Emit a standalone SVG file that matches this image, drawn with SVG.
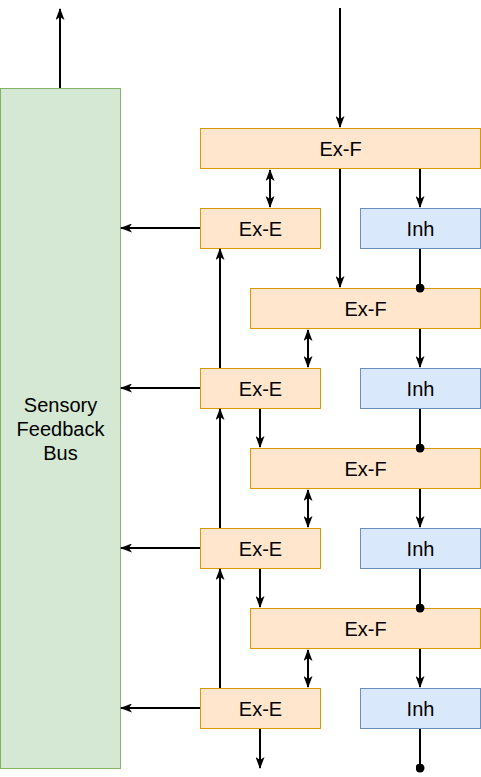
<svg xmlns="http://www.w3.org/2000/svg" width="481" height="777" viewBox="0 0 481 777">
<style>
.ex{fill:#ffe6cc;stroke:#d79b00;stroke-width:1}
.inh{fill:#dae8fc;stroke:#6c8ebf;stroke-width:1}
.bus{fill:#d5e8d4;stroke:#82b366;stroke-width:1}
.t{font-family:"Liberation Sans",Arial,sans-serif;font-size:20px;fill:#000;text-anchor:middle;dominant-baseline:central}
.c{stroke:#000;stroke-width:2;fill:none}
.a{marker-end:url(#arr)}
.b{marker-start:url(#arrs);marker-end:url(#arr)}
.d{marker-end:url(#dot)}
</style>
<defs>
<marker id="arr" viewBox="0 0 12 9" refX="11" refY="4.5" markerWidth="6" markerHeight="4.5" orient="auto" markerUnits="strokeWidth">
<path d="M0,0 L12,4.5 L0,9 L3,4.5 Z" fill="#000"/>
</marker>
<marker id="arrs" viewBox="0 0 12 9" refX="1" refY="4.5" markerWidth="6" markerHeight="4.5" orient="auto" markerUnits="strokeWidth">
<path d="M12,0 L0,4.5 L12,9 L9,4.5 Z" fill="#000"/>
</marker>
<marker id="dot" viewBox="0 0 9 9" refX="4.5" refY="4.5" markerWidth="4.5" markerHeight="4.5" orient="auto" markerUnits="strokeWidth">
<circle cx="4.5" cy="4.5" r="4.5" fill="#000"/>
</marker>
</defs>
<g id="bus"><rect class="bus" x="0.5" y="88.5" width="120" height="680"/>
<text class="t" x="60.5" y="405">Sensory</text><text class="t" x="60.5" y="429">Feedback</text><text class="t" x="60.5" y="453">Bus</text></g>
<g id="exf1"><rect class="ex" x="200.5" y="128.5" width="280" height="40"/><text class="t" x="340.5" y="148.5">Ex-F</text></g>
<g id="exe1"><rect class="ex" x="200.5" y="208.5" width="120" height="40"/><text class="t" x="260.5" y="228.5">Ex-E</text></g>
<g id="inh1"><rect class="inh" x="360.5" y="208.5" width="120" height="40"/><text class="t" x="420.5" y="228.5">Inh</text></g>
<g id="exf2"><rect class="ex" x="250.5" y="288.5" width="230" height="40"/><text class="t" x="365.5" y="308.5">Ex-F</text></g>
<g id="exe2"><rect class="ex" x="200.5" y="368.5" width="120" height="40"/><text class="t" x="260.5" y="388.5">Ex-E</text></g>
<g id="inh2"><rect class="inh" x="360.5" y="368.5" width="120" height="40"/><text class="t" x="420.5" y="388.5">Inh</text></g>
<g id="exf3"><rect class="ex" x="250.5" y="448.5" width="230" height="40"/><text class="t" x="365.5" y="468.5">Ex-F</text></g>
<g id="exe3"><rect class="ex" x="200.5" y="528.5" width="120" height="40"/><text class="t" x="260.5" y="548.5">Ex-E</text></g>
<g id="inh3"><rect class="inh" x="360.5" y="528.5" width="120" height="40"/><text class="t" x="420.5" y="548.5">Inh</text></g>
<g id="exf4"><rect class="ex" x="250.5" y="608.5" width="230" height="40"/><text class="t" x="365.5" y="628.5">Ex-F</text></g>
<g id="exe4"><rect class="ex" x="200.5" y="688.5" width="120" height="40"/><text class="t" x="260.5" y="708.5">Ex-E</text></g>
<g id="inh4"><rect class="inh" x="360.5" y="688.5" width="120" height="40"/><text class="t" x="420.5" y="708.5">Inh</text></g>
<g id="connectors">
<path class="c a" d="M60,88 V9"/>
<path class="c a" d="M340,8 V127"/>
<path class="c b" d="M270,170 V207"/>
<path class="c a" d="M420,169 V207"/>
<path class="c a" d="M340,169 V287"/>
<path class="c a" d="M200,228 H121"/>
<path class="c d" d="M420,249 V288"/>
<path class="c b" d="M308,330 V367"/>
<path class="c a" d="M420,329 V367"/>
<path class="c a" d="M220,368 V249"/>
<path class="c a" d="M200,388 H121"/>
<path class="c a" d="M260,409 V447"/>
<path class="c d" d="M420,409 V448"/>
<path class="c b" d="M308,490 V527"/>
<path class="c a" d="M420,489 V527"/>
<path class="c a" d="M220,528 V409"/>
<path class="c a" d="M200,548 H121"/>
<path class="c a" d="M260,569 V607"/>
<path class="c d" d="M420,569 V608"/>
<path class="c b" d="M308,650 V687"/>
<path class="c a" d="M420,649 V687"/>
<path class="c a" d="M220,688 V569"/>
<path class="c a" d="M200,708 H121"/>
<path class="c a" d="M260,729 V768"/>
<path class="c d" d="M420,729 V768"/>
</g>
</svg>
